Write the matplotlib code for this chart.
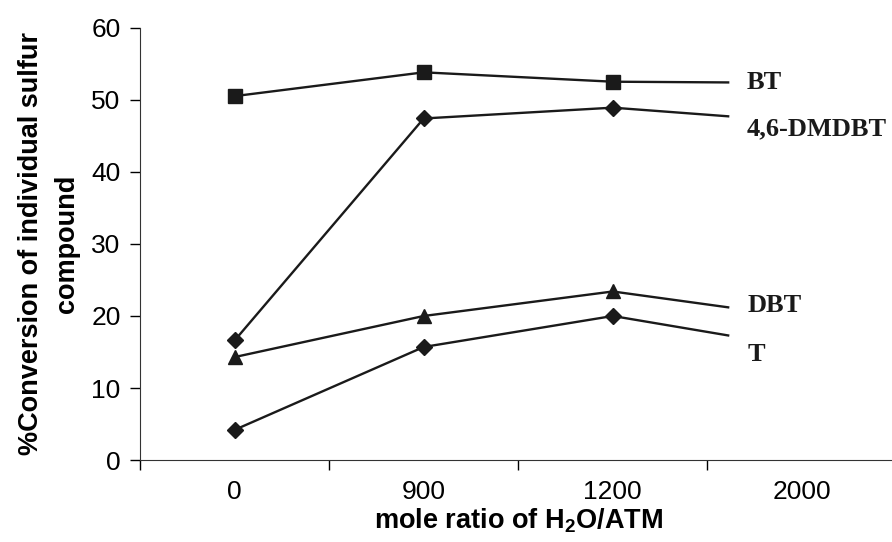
import numpy as np
import matplotlib.pyplot as plt

plt.rcParams['font.family'] = ['Liberation Sans', 'DejaVu Sans']
plt.rcParams['mathtext.fontset'] = 'custom'
plt.rcParams['mathtext.rm'] = 'Liberation Sans'
plt.rcParams['mathtext.bf'] = 'Liberation Sans:bold'

# mole ratio of H2O/ATM (categorical axis)
ratios = ['0', '900', '1200', '2000']

# % conversion at 0, 900, 1200
bt = [50.5, 53.8, 52.5]
dmdbt = [16.6, 47.4, 48.9]
dbt = [14.3, 20.0, 23.4]
t = [4.2, 15.7, 20.0]

# where each line stops, towards the 2000 column
bt_end = 52.4
dmdbt_end = 47.7
dbt_end = 21.2
t_end = 17.3

fig = plt.figure(figsize=(8.92, 5.42), dpi=100)
ax = fig.add_axes([0.157, 0.151, 0.848, 0.798])

x = np.arange(3)
tail = 2.61    # lines run on past 1200 but stop short of 2000
lab_x = 2.71

series = [
    ('BT', bt, bt_end, 's', 9.5, 0.0),
    ('4,6-DMDBT', dmdbt, dmdbt_end, 'D', 8, -1.7),
    ('DBT', dbt, dbt_end, '^', 10.5, 0.3),
    ('T', t, t_end, 'D', 8, -2.7),
]
for name, vals, end, mk, ms, dy in series:
    ax.plot(np.append(x, tail), vals + [end], color='#1a1a1a', lw=1.7)
    ax.plot(x, vals, ls='none', marker=mk, ms=ms, color='#1a1a1a')
    ax.text(lab_x, end + dy, name, fontsize=19, fontweight='bold',
            family=['Liberation Serif'], va='center', ha='left', color='#1a1a1a')

ax.set_xlim(-0.5, 3.5)
ax.set_ylim(0, 60)
ax.set_yticks(range(0, 61, 10))
ax.set_xticks(range(4))
ax.set_xticklabels(ratios)
ax.set_xticks(np.arange(-0.5, 3.6, 1), minor=True)
ax.tick_params(axis='x', which='major', length=0, pad=14, labelsize=19)
ax.tick_params(axis='x', which='minor', length=7, width=1, direction='out')
ax.tick_params(axis='y', length=7, width=1, pad=7, labelsize=19, direction='out')
for s in ['top', 'right']:
    ax.spines[s].set_visible(False)
for s in ['left', 'bottom']:
    ax.spines[s].set_color('#333333')

ax.set_xlabel(r'mole ratio of H$_\mathbf{2}$O/ATM', fontsize=19.5, fontweight='bold', labelpad=2)
ax.set_ylabel('%Conversion of individual sulfur\ncompound', fontsize=19.5,
              fontweight='bold', linespacing=1.5, labelpad=8)

plt.savefig('out.png', dpi=100)
